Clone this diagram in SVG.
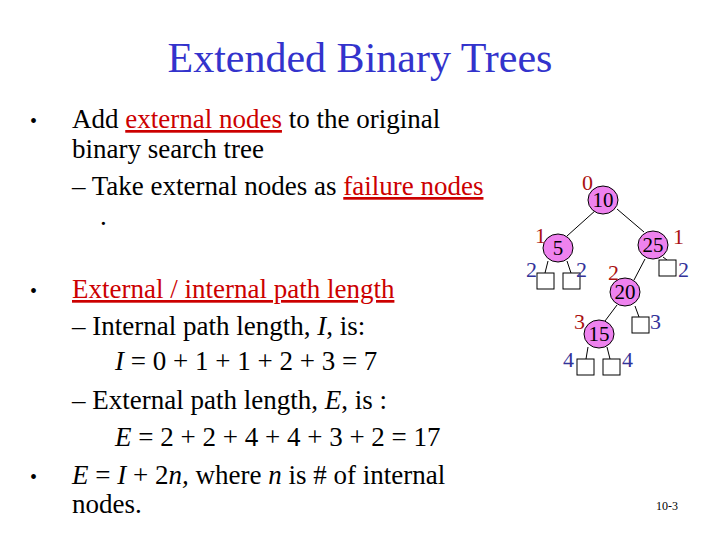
<svg xmlns="http://www.w3.org/2000/svg" width="720" height="540" viewBox="0 0 720 540">
<style>
text{font-family:"Liberation Serif","Times New Roman",serif;}
.b{font-size:27px;fill:#000}
.r{fill:#cc0000}
.n{fill:#ee82ee;stroke:#000;stroke-width:1}
.nl{font-size:21px;text-anchor:middle}
.sq{fill:#fff;stroke:#000;stroke-width:1}
.rl{font-size:22px;fill:#aa1111}
.bl{font-size:22px;fill:#333399}
.e{stroke:#000;stroke-width:1}
</style>
<rect width="720" height="540" fill="#fff"/>
<text x="360" y="72" font-size="42" fill="#3333cc" text-anchor="middle">Extended Binary Trees</text>
<g class="b">
<text x="30" y="128" font-size="20">•</text><text x="72" y="128">Add <tspan class="r" text-decoration="underline">external nodes</tspan> to the original</text>
<text x="72" y="158">binary search tree</text>
<text x="72" y="195">– Take external nodes as <tspan class="r" text-decoration="underline">failure nodes</tspan></text>
<text x="100" y="225">.</text>
<text x="30" y="298" font-size="20">•</text><text x="72" y="298" class="r" text-decoration="underline">External / internal path length</text>
<text x="72" y="335">– Internal path length, <tspan font-style="italic">I</tspan>, is:</text>
<text x="115" y="370"><tspan font-style="italic">I</tspan> = 0 + 1 + 1 + 2 + 3 = 7</text>
<text x="72" y="409">– External path length, <tspan font-style="italic">E</tspan>, is :</text>
<text x="115" y="446"><tspan font-style="italic">E</tspan> = 2 + 2 + 4 + 4 + 3 + 2 = 17</text>
<text x="30" y="484" font-size="20">•</text><text x="72" y="484"><tspan font-style="italic">E</tspan> = <tspan font-style="italic">I</tspan> + 2<tspan font-style="italic">n,</tspan> where <tspan font-style="italic">n</tspan> is # of internal</text>
<text x="72" y="513">nodes.</text>
</g>
<g id="connectors">
<line class="e" x1="596" y1="210" x2="567" y2="236"/>
<line class="e" x1="617" y1="209" x2="644" y2="232" stroke-width="2.5"/>
<line class="e" x1="645" y1="259" x2="634" y2="280"/>
<line class="e" x1="663" y1="257" x2="667" y2="260"/>
<line class="e" x1="548" y1="261" x2="545" y2="273"/>
<line class="e" x1="567" y1="261" x2="571" y2="273"/>
<line class="e" x1="617" y1="305" x2="605" y2="321"/>
<line class="e" x1="635" y1="306" x2="639" y2="317"/>
<line class="e" x1="588" y1="347" x2="586" y2="359"/>
<line class="e" x1="607" y1="347" x2="610" y2="359"/>
</g>
<g id="n10"><ellipse class="n" cx="603" cy="200" rx="15" ry="14"/><text class="nl" x="603" y="207">10</text></g>
<g id="n5"><ellipse class="n" cx="558" cy="248" rx="15" ry="14"/><text class="nl" x="558" y="255">5</text></g>
<g id="n25"><ellipse class="n" cx="653" cy="245" rx="15" ry="14"/><text class="nl" x="653" y="252">25</text></g>
<g id="n20"><ellipse class="n" cx="625" cy="292" rx="15" ry="14"/><text class="nl" x="625" y="299">20</text></g>
<g id="n15"><ellipse class="n" cx="599" cy="334" rx="15" ry="14"/><text class="nl" x="599" y="341">15</text></g>
<g id="externals">
<rect class="sq" x="537" y="273" width="17" height="16"/>
<rect class="sq" x="563" y="273" width="17" height="16"/>
<rect class="sq" x="659" y="260" width="17" height="16"/>
<rect class="sq" x="632" y="317" width="17" height="16"/>
<rect class="sq" x="577" y="359" width="17" height="16"/>
<rect class="sq" x="603" y="359" width="17" height="16"/>
</g>
<g id="levels">
<text class="rl" x="582" y="190">0</text>
<text class="rl" x="535" y="243">1</text>
<text class="rl" x="673" y="244">1</text>
<text class="rl" x="608" y="280">2</text>
<text class="rl" x="574" y="329">3</text>
<text class="bl" x="526" y="277">2</text>
<text class="bl" x="576" y="277">2</text>
<text class="bl" x="678" y="277">2</text>
<text class="bl" x="650" y="329">3</text>
<text class="bl" x="563" y="367">4</text>
<text class="bl" x="622" y="367">4</text>
</g>
<text x="656" y="510" font-size="12">10-3</text>
</svg>
